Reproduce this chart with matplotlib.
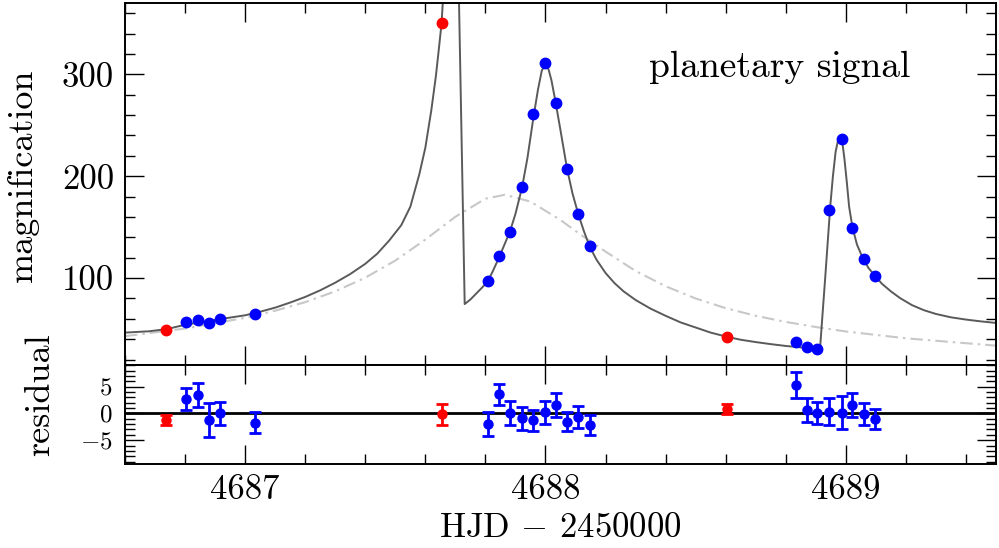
import matplotlib
matplotlib.use("Agg")
import matplotlib.pyplot as plt
from matplotlib.ticker import MultipleLocator, FixedLocator

plt.rcParams['font.family'] = ['cmr10', 'DejaVu Serif']
plt.rcParams['mathtext.fontset'] = 'cm'
plt.rcParams['axes.unicode_minus'] = False

# ---- data ----
t_red = [4686.738, 4687.654, 4688.604]
A_red = [49.3, 350.6, 42.4]
res_red = [-1.24, -0.19, 0.8]
err_red = [0.9, 1.9, 1.0]

t_blue = [4686.803, 4686.842, 4686.879, 4686.917, 4687.032,
          4687.808, 4687.845, 4687.882, 4687.922, 4687.960, 4687.998,
          4688.034, 4688.072, 4688.109, 4688.147,
          4688.833, 4688.870, 4688.905, 4688.945, 4688.987, 4689.022,
          4689.059, 4689.098]
A_blue = [56.5, 59.0, 55.9, 59.4, 65.0,
          96.7, 121.2, 145.1, 189.2, 260.8, 310.8,
          272.2, 206.9, 162.7, 131.4,
          37.3, 32.0, 30.4, 167.0, 236.3, 149.6,
          118.9, 101.6]
res_blue = [2.65, 3.4, -1.24, 0.0, -1.74,
            -2.04, 3.57, 0.0, -0.87, -1.24, 0.19,
            1.54, -1.55, -0.62, -2.17,
            5.37, 0.61, 0.12, 0.3, 0.12, 1.54,
            -0.13, -1.11]
err_blue = [2.1, 2.25, 3.2, 2.2, 2.0,
            2.25, 1.95, 2.25, 2.15, 1.95, 2.2,
            2.25, 1.8, 2.05, 1.95,
            2.45, 2.25, 2.1, 2.5, 3.05, 2.25,
            2.05, 1.85]

# planetary model curve
t_model = [4686.60, 4686.68, 4686.74, 4686.80, 4686.90, 4687.00, 4687.05,
           4687.10, 4687.15, 4687.20, 4687.25, 4687.30, 4687.35, 4687.40,
           4687.44, 4687.48, 4687.52, 4687.55, 4687.58, 4687.60, 4687.62,
           4687.635, 4687.645, 4687.654, 4687.660, 4687.665, 4687.672,
           4687.731, 4687.75, 4687.77, 4687.79, 4687.808, 4687.825,
           4687.845, 4687.865, 4687.882, 4687.90, 4687.922, 4687.94,
           4687.96, 4687.975, 4687.988, 4688.000, 4688.010, 4688.020,
           4688.034, 4688.05, 4688.072, 4688.09, 4688.109, 4688.128,
           4688.147, 4688.17, 4688.20, 4688.23, 4688.26, 4688.30, 4688.35,
           4688.40, 4688.45, 4688.50, 4688.55, 4688.604, 4688.65, 4688.70,
           4688.75, 4688.80, 4688.85, 4688.89, 4688.914, 4688.931, 4688.948,
           4688.957, 4688.966, 4688.974, 4688.981, 4688.988, 4688.995,
           4689.003, 4689.011, 4689.022, 4689.037, 4689.05, 4689.059,
           4689.075, 4689.098, 4689.12, 4689.15, 4689.18, 4689.22, 4689.26,
           4689.30, 4689.35, 4689.40, 4689.45, 4689.50]
A_model = [46.5, 47.8, 50.0, 54.2, 59.0, 63.5, 67.0,
           71.0, 76.0, 81.5, 88.0, 95.5, 104.0, 114.0,
           124.0, 137.0, 152.0, 170.0, 202.0, 228.0, 265.0,
           298.0, 325.0, 350.0, 380.0, 1000.0, 1000.0,
           74.5, 79.0, 85.0, 91.0, 97.0, 107.0,
           120.0, 134.0, 146.0, 163.0, 189.0, 218.0,
           258.0, 285.0, 304.0, 309.0, 305.0, 294.0,
           272.0, 245.0, 207.0, 183.0, 163.0, 146.0,
           131.0, 118.0, 105.0, 95.0, 87.0, 78.5, 70.0,
           63.0, 56.5, 51.5, 46.5, 42.4, 39.5, 37.2,
           35.2, 33.4, 32.0, 31.0, 30.4, 99.0, 170.0,
           200.0, 224.0, 235.0, 238.0, 234.0, 218.0,
           195.0, 170.0, 150.0, 133.0, 124.0, 119.0,
           110.0, 102.0, 94.5, 87.0, 80.5, 73.5, 68.5,
           64.8, 61.5, 59.3, 57.5, 56.0]

# single-lens curve
t_single = [4686.60, 4686.80, 4687.00, 4687.10, 4687.20, 4687.30, 4687.40,
            4687.50, 4687.60, 4687.70, 4687.80, 4687.865, 4687.95, 4688.05,
            4688.12, 4688.20, 4688.30, 4688.40, 4688.50, 4688.60, 4688.70,
            4688.80, 4688.90, 4689.00, 4689.20, 4689.50]
A_single = [43.0, 50.5, 61.0, 68.0, 76.4, 87.0, 100.4,
            117.2, 137.8, 160.2, 177.9, 181.8, 175.1, 157.0,
            142.0, 126.0, 107.0, 92.0, 80.0, 70.5, 63.0,
            57.0, 52.0, 47.6, 40.9, 33.7]

xlim = (4686.6, 4689.5)

fig = plt.figure(figsize=(9.99, 5.48), dpi=100)
ax1 = fig.add_axes([125/999, 1-364.7/548, 871/999, 361.7/548])
ax2 = fig.add_axes([125/999, 1-464.3/548, 871/999, 99.6/548])

fs = 25

for ax in (ax1, ax2):
    ax.set_xlim(*xlim)
    for s in ax.spines.values():
        s.set_linewidth(1.4)
    ax.xaxis.set_major_locator(MultipleLocator(1))
    ax.xaxis.set_minor_locator(MultipleLocator(0.2))
    ax.tick_params(which='both', direction='in', top=True, right=True,
                   width=1.0, labelsize=fs)
    ax.tick_params(which='major', length=14)
    ax.tick_params(which='minor', length=7)

# top panel
ax1.plot(t_single, A_single, color='#c8c8c8', lw=1.5,
         ls=(0, (6, 2.4, 1.2, 2.4)), zorder=1)
ax1.plot(t_model, A_model, color='#5a5a5a', lw=1.4, zorder=2)
ax1.plot(t_blue, A_blue, 'o', color='#0000ff', ms=7.5, mec='#0000ff', zorder=3)
ax1.plot(t_red, A_red, 'o', color='#ff0000', ms=7.5, mec='#ff0000', zorder=3)
ax1.set_ylim(15, 370)
ax1.yaxis.set_major_locator(FixedLocator([100, 200, 300]))
ax1.yaxis.set_minor_locator(MultipleLocator(20))
ax1.tick_params(axis='x', labelbottom=False)
ax1.tick_params(axis='y', pad=8)
ax1.text(0.752, 0.823, 'planetary signal', transform=ax1.transAxes,
         ha='center', va='center', fontsize=27)

# residual panel
ax2.axhline(0, color='black', lw=2.0, zorder=1)
ax2.errorbar(t_blue, res_blue, yerr=err_blue, fmt='o', color='#0000ff',
             ms=6.5, elinewidth=2.0, capsize=4, capthick=2.0, zorder=3)
ax2.errorbar(t_red, res_red, yerr=err_red, fmt='o', color='#ff0000',
             ms=6.5, elinewidth=2.0, capsize=4, capthick=2.0, zorder=3)
ax2.set_ylim(-9.5, 9.1)
ax2.yaxis.set_major_locator(FixedLocator([-5, 0, 5]))
ax2.yaxis.set_minor_locator(MultipleLocator(1))
ax2.set_yticklabels(['$-5$', '0', '5'])
ax2.set_xticks([4687, 4688, 4689])
ax2.set_xticklabels(['4687', '4688', '4689'])
ax2.tick_params(axis='x', pad=7)
ax2.tick_params(axis='y', pad=9, labelsize=18)
ax2.set_xlabel(r'HJD $-$ 2450000', fontsize=fs, labelpad=5)

fig.text(23/999, 1-175/548, 'magnification', rotation=90,
         ha='center', va='center', fontsize=26)
fig.text(40/999, 1-395/548, 'residual', rotation=90,
         ha='center', va='center', fontsize=26)

fig.savefig('out.png', dpi=100)
